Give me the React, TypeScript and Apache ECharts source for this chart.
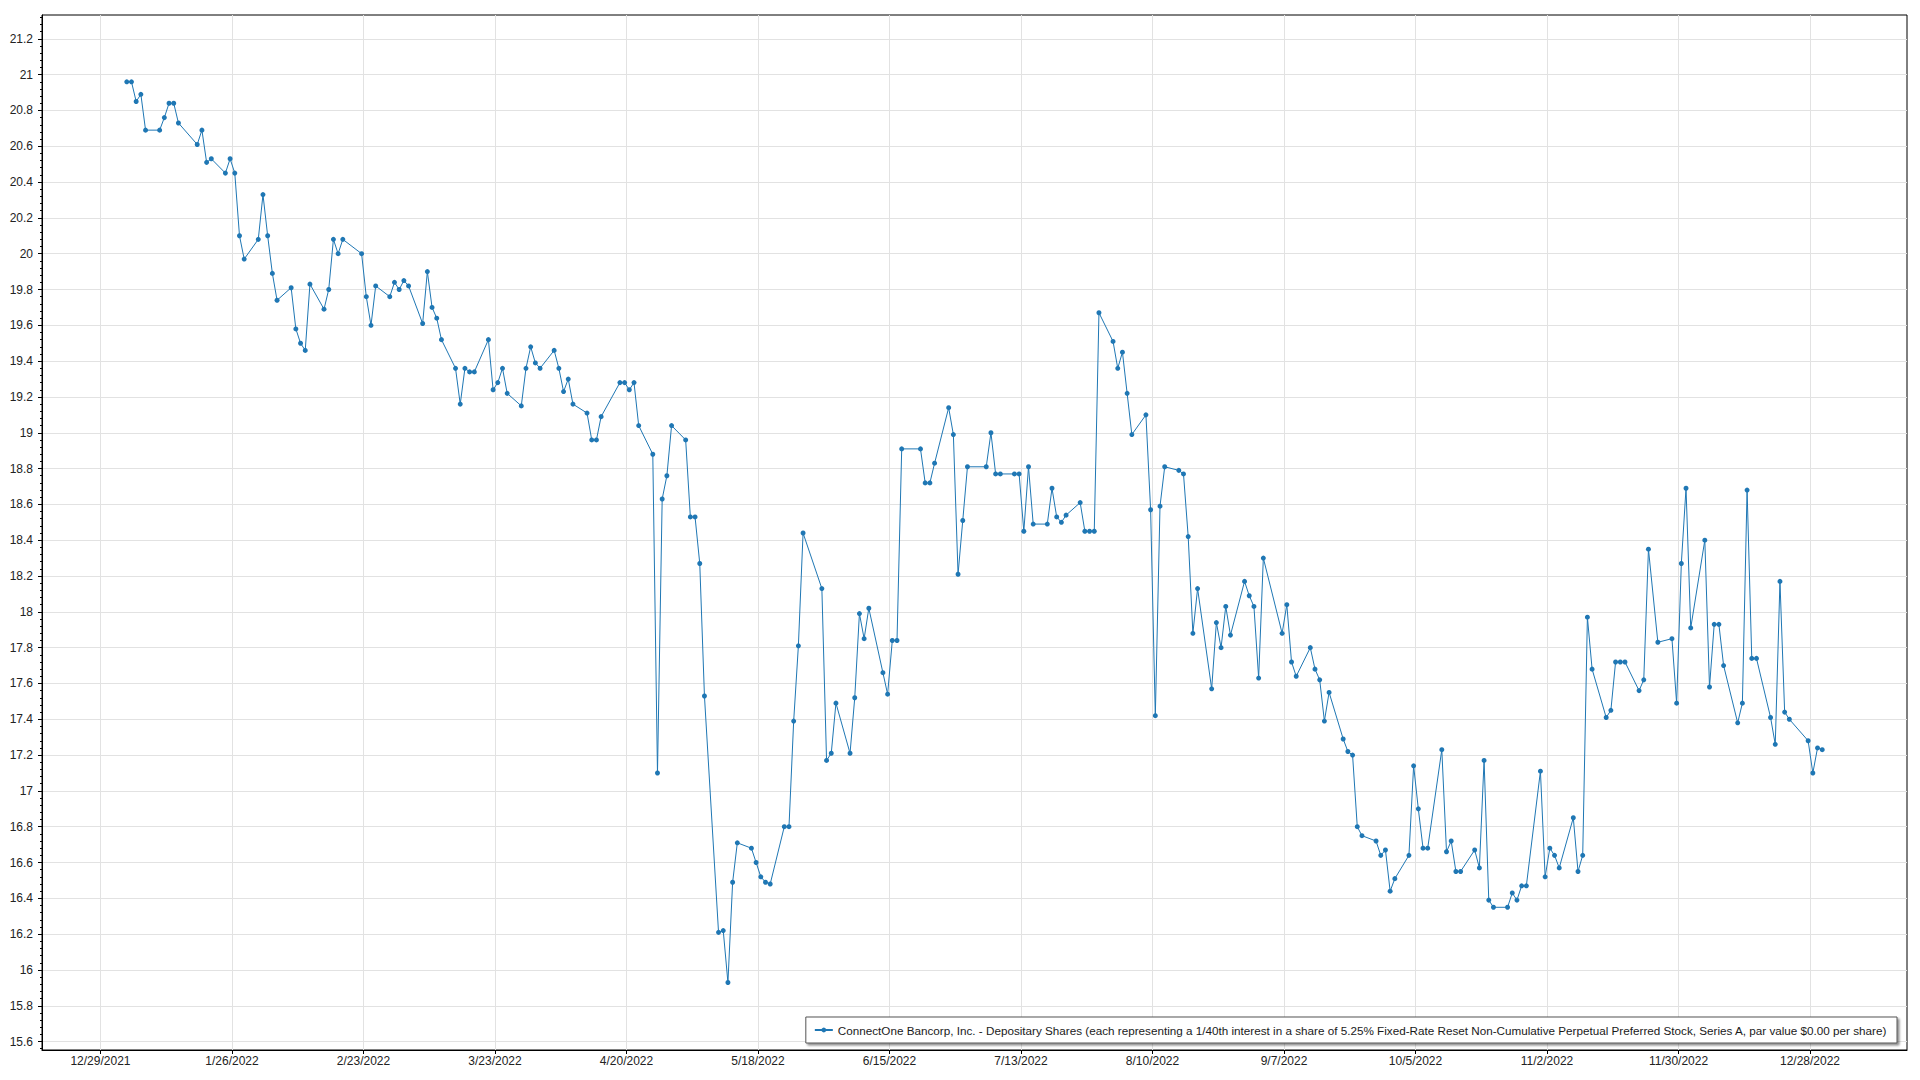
import React, { useEffect, useRef } from "react";
import * as echarts from "echarts";

// ---- Data ----
const SERIES_NAME =
  "ConnectOne Bancorp, Inc. - Depositary Shares (each representing a 1/40th interest in a share of 5.25% Fixed-Rate Reset Non-Cumulative Perpetual Preferred Stock, Series A, par value $0.00 per share)";

const DATES: string[] = [
  "2022-01-03","2022-01-04","2022-01-05","2022-01-06","2022-01-07","2022-01-10","2022-01-11","2022-01-12","2022-01-13","2022-01-14",
  "2022-01-18","2022-01-19","2022-01-20","2022-01-21","2022-01-24","2022-01-25","2022-01-26","2022-01-27","2022-01-28","2022-01-31",
  "2022-02-01","2022-02-02","2022-02-03","2022-02-04","2022-02-07","2022-02-08","2022-02-09","2022-02-10","2022-02-11","2022-02-14",
  "2022-02-15","2022-02-16","2022-02-17","2022-02-18","2022-02-22","2022-02-23","2022-02-24","2022-02-25","2022-02-28","2022-03-01",
  "2022-03-02","2022-03-03","2022-03-04","2022-03-07","2022-03-08","2022-03-09","2022-03-10","2022-03-11","2022-03-14","2022-03-15",
  "2022-03-16","2022-03-17","2022-03-18","2022-03-21","2022-03-22","2022-03-23","2022-03-24","2022-03-25","2022-03-28","2022-03-29",
  "2022-03-30","2022-03-31","2022-04-01","2022-04-04","2022-04-05","2022-04-06","2022-04-07","2022-04-08","2022-04-11","2022-04-12",
  "2022-04-13","2022-04-14","2022-04-18","2022-04-19","2022-04-20","2022-04-21","2022-04-22","2022-04-25","2022-04-26","2022-04-27",
  "2022-04-28","2022-04-29","2022-05-02","2022-05-03","2022-05-04","2022-05-05","2022-05-06","2022-05-09","2022-05-10","2022-05-11",
  "2022-05-12","2022-05-13","2022-05-16","2022-05-17","2022-05-18","2022-05-19","2022-05-20","2022-05-23","2022-05-24","2022-05-25",
  "2022-05-26","2022-05-27","2022-05-31","2022-06-01","2022-06-02","2022-06-03","2022-06-06","2022-06-07","2022-06-08","2022-06-09",
  "2022-06-10","2022-06-13","2022-06-14","2022-06-15","2022-06-16","2022-06-17","2022-06-21","2022-06-22","2022-06-23","2022-06-24",
  "2022-06-27","2022-06-28","2022-06-29","2022-06-30","2022-07-01","2022-07-05","2022-07-06","2022-07-07","2022-07-08","2022-07-11",
  "2022-07-12","2022-07-13","2022-07-14","2022-07-15","2022-07-18","2022-07-19","2022-07-20","2022-07-21","2022-07-22","2022-07-25",
  "2022-07-26","2022-07-27","2022-07-28","2022-07-29","2022-08-01","2022-08-02","2022-08-03","2022-08-04","2022-08-05","2022-08-08",
  "2022-08-09","2022-08-10","2022-08-11","2022-08-12","2022-08-15","2022-08-16","2022-08-17","2022-08-18","2022-08-19","2022-08-22",
  "2022-08-23","2022-08-24","2022-08-25","2022-08-26","2022-08-29","2022-08-30","2022-08-31","2022-09-01","2022-09-02","2022-09-06",
  "2022-09-07","2022-09-08","2022-09-09","2022-09-12","2022-09-13","2022-09-14","2022-09-15","2022-09-16","2022-09-19","2022-09-20",
  "2022-09-21","2022-09-22","2022-09-23","2022-09-26","2022-09-27","2022-09-28","2022-09-29","2022-09-30","2022-10-03","2022-10-04",
  "2022-10-05","2022-10-06","2022-10-07","2022-10-10","2022-10-11","2022-10-12","2022-10-13","2022-10-14","2022-10-17","2022-10-18",
  "2022-10-19","2022-10-20","2022-10-21","2022-10-24","2022-10-25","2022-10-26","2022-10-27","2022-10-28","2022-10-31","2022-11-01",
  "2022-11-02","2022-11-03","2022-11-04","2022-11-07","2022-11-08","2022-11-09","2022-11-10","2022-11-11","2022-11-14","2022-11-15",
  "2022-11-16","2022-11-17","2022-11-18","2022-11-21","2022-11-22","2022-11-23","2022-11-25","2022-11-28","2022-11-29","2022-11-30",
  "2022-12-01","2022-12-02","2022-12-05","2022-12-06","2022-12-07","2022-12-08","2022-12-09","2022-12-12","2022-12-13","2022-12-14",
  "2022-12-15","2022-12-16","2022-12-19","2022-12-20","2022-12-21","2022-12-22","2022-12-23","2022-12-27","2022-12-28","2022-12-29",
  "2022-12-30",
];

const PRICES: number[] = [
  20.96, 20.96, 20.85, 20.89, 20.69, 20.69, 20.76, 20.84, 20.84, 20.73,
  20.61, 20.69, 20.51, 20.53, 20.45, 20.53, 20.45, 20.10, 19.97, 20.08,
  20.33, 20.10, 19.89, 19.74, 19.81, 19.58, 19.50, 19.46, 19.83, 19.69,
  19.80, 20.08, 20.00, 20.08, 20.00, 19.76, 19.60, 19.82, 19.76, 19.84,
  19.80, 19.85, 19.82, 19.61, 19.90, 19.70, 19.64, 19.52, 19.36, 19.16,
  19.36, 19.34, 19.34, 19.52, 19.24, 19.28, 19.36, 19.22, 19.15, 19.36,
  19.48, 19.39, 19.36, 19.46, 19.36, 19.23, 19.30, 19.16, 19.11, 18.96,
  18.96, 19.09, 19.28, 19.28, 19.24, 19.28, 19.04, 18.88, 17.10, 18.63,
  18.76, 19.04, 18.96, 18.53, 18.53, 18.27, 17.53, 16.21, 16.22, 15.93,
  16.49, 16.71, 16.68, 16.60, 16.52, 16.49, 16.48, 16.80, 16.80, 17.39,
  17.81, 18.44, 18.13, 17.17, 17.21, 17.49, 17.21, 17.52, 17.99, 17.85,
  18.02, 17.66, 17.54, 17.84, 17.84, 18.91, 18.91, 18.72, 18.72, 18.83,
  19.14, 18.99, 18.21, 18.51, 18.81, 18.81, 19.00, 18.77, 18.77, 18.77,
  18.77, 18.45, 18.81, 18.49, 18.49, 18.69, 18.53, 18.50, 18.54, 18.61,
  18.45, 18.45, 18.45, 19.67, 19.51, 19.36, 19.45, 19.22, 18.99, 19.10,
  18.57, 17.42, 18.59, 18.81, 18.79, 18.77, 18.42, 17.88, 18.13, 17.57,
  17.94, 17.80, 18.03, 17.87, 18.17, 18.09, 18.03, 17.63, 18.30, 17.88,
  18.04, 17.72, 17.64, 17.80, 17.68, 17.62, 17.39, 17.55, 17.29, 17.22,
  17.20, 16.80, 16.75, 16.72, 16.64, 16.67, 16.44, 16.51, 16.64, 17.14,
  16.90, 16.68, 16.68, 17.23, 16.66, 16.72, 16.55, 16.55, 16.67, 16.57,
  17.17, 16.39, 16.35, 16.35, 16.43, 16.39, 16.47, 16.47, 17.11, 16.52,
  16.68, 16.64, 16.57, 16.85, 16.55, 16.64, 17.97, 17.68, 17.41, 17.45,
  17.72, 17.72, 17.72, 17.56, 17.62, 18.35, 17.83, 17.85, 17.49, 18.27,
  18.69, 17.91, 18.40, 17.58, 17.93, 17.93, 17.70, 17.38, 17.49, 18.68,
  17.74, 17.74, 17.41, 17.26, 18.17, 17.44, 17.40, 17.28, 17.10, 17.24,
  17.23,
];

const X_TICK_DATES: string[] = [
  "2021-12-29","2022-01-26","2022-02-23","2022-03-23","2022-04-20","2022-05-18","2022-06-15",
  "2022-07-13","2022-08-10","2022-09-07","2022-10-05","2022-11-02","2022-11-30","2022-12-28",
];

const Y_TICKS: number[] = [
  15.6, 15.8, 16, 16.2, 16.4, 16.6, 16.8, 17, 17.2, 17.4, 17.6, 17.8, 18, 18.2, 18.4,
  18.6, 18.8, 19, 19.2, 19.4, 19.6, 19.8, 20, 20.2, 20.4, 20.6, 20.8, 21, 21.2,
];
const Y_MIN = 15.553;
const Y_MAX = 21.333;

// ---- Helpers ----
const DAY_MS = 86400000;
const ORIGIN = Date.UTC(2021, 11, 29);
const SAMPLE_TIME = 0.6; // points are time-stamped in the afternoon of their day

const dayIndex = (iso: string) => {
  const [y, m, d] = iso.split("-").map(Number);
  return (Date.UTC(y, m - 1, d) - ORIGIN) / DAY_MS;
};
const fmtDay = (v: number) => {
  const dt = new Date(ORIGIN + Math.round(v) * DAY_MS);
  return `${dt.getUTCMonth() + 1}/${dt.getUTCDate()}/${dt.getUTCFullYear()}`;
};
const fmtY = (v: number) => String(Math.round(v * 10) / 10);

const FONT = "Liberation Sans, Arial, sans-serif";
const LINE_COLOR = "#1f77b4";

export default function App() {
  const ref = useRef<HTMLDivElement>(null);

  useEffect(() => {
    if (!ref.current) return;
    const chart = echarts.init(ref.current, undefined, { renderer: "svg" });

    const xs = DATES.map((d) => dayIndex(d) + SAMPLE_TIME);
    const data = xs.map((x, i) => [x, PRICES[i]]);
    const xMinData = Math.min(...xs);
    const xMaxData = Math.max(...xs);
    const pad = (xMaxData - xMinData) * 0.05;
    const xTicks = X_TICK_DATES.map(dayIndex);

    const minorTicks: number[] = [];
    for (let k = Math.ceil(Y_MIN * 25); k <= Math.floor(Y_MAX * 25); k++) {
      minorTicks.push(k / 25);
    }

    chart.setOption({
      animation: false,
      backgroundColor: "#ffffff",
      grid: {
        left: 42,
        right: 13,
        top: 15,
        bottom: 30,
        show: true,
        borderColor: "#000000",
        borderWidth: 1,
        backgroundColor: "transparent",
      },
      xAxis: {
        type: "value",
        min: xMinData - pad,
        max: xMaxData + pad,
        axisLine: { show: true, onZero: false, lineStyle: { color: "#000", width: 1 } },
        axisTick: { show: true, length: 4, customValues: xTicks, lineStyle: { color: "#000" } },
        axisLabel: {
          customValues: xTicks,
          formatter: (v: number) => fmtDay(v),
          fontFamily: FONT,
          fontSize: 12,
          color: "#222",
          margin: 5,
        },
        splitLine: { show: true, lineStyle: { color: "#e2e2e2", width: 1 } },
      },
      yAxis: [
        {
          type: "value",
          position: "left",
          min: Y_MIN,
          max: Y_MAX,
          axisLine: { show: true, onZero: false, lineStyle: { color: "#000", width: 1 } },
          axisTick: { show: true, length: 4, customValues: Y_TICKS, lineStyle: { color: "#000" } },
          axisLabel: {
            customValues: Y_TICKS,
            formatter: (v: number) => fmtY(v),
            fontFamily: FONT,
            fontSize: 12,
            color: "#222",
            margin: 9,
          },
          splitLine: { show: true, lineStyle: { color: "#e2e2e2", width: 1 } },
        },
        {
          type: "value",
          position: "left",
          offset: 0,
          min: Y_MIN,
          max: Y_MAX,
          axisLine: { show: false, onZero: false },
          axisTick: { show: true, length: 2, customValues: minorTicks, lineStyle: { color: "#000" } },
          axisLabel: { show: false },
          splitLine: { show: false },
        },
      ],
      legend: {
        show: true,
        right: 23,
        bottom: 37,
        orient: "horizontal",
        backgroundColor: "#ffffff",
        borderColor: "#555555",
        borderWidth: 1,
        borderRadius: 0,
        padding: [7, 10, 7, 8],
        itemWidth: 18,
        itemHeight: 6,
        itemGap: 6,
        textStyle: { fontFamily: FONT, fontSize: 11.7, color: "#1a1a1a" },
        shadowColor: "rgba(0,0,0,0.45)",
        shadowBlur: 2,
        shadowOffsetX: 2,
        shadowOffsetY: 2,
        data: [SERIES_NAME],
      },
      series: [
        {
          name: SERIES_NAME,
          type: "line",
          xAxisIndex: 0,
          yAxisIndex: 0,
          data,
          symbol: "circle",
          symbolSize: 5,
          showSymbol: true,
          lineStyle: { width: 1, color: LINE_COLOR },
          itemStyle: { color: LINE_COLOR },
          emphasis: { disabled: true },
        },
      ],
    });

    return () => chart.dispose();
  }, []);

  return (
    <div
      ref={ref}
      style={{ position: "fixed", left: 0, top: 0, width: "1920px", height: "1080px", background: "#fff" }}
    />
  );
}
